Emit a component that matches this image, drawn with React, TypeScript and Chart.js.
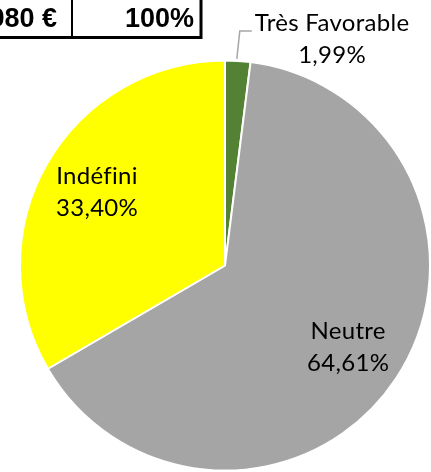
import React, { useEffect, useRef } from "react";
import { Chart, registerables } from "chart.js";

Chart.register(...registerables);

const categories = ["Très Favorable", "Neutre", "Indéfini"];
const shares = [1.99, 64.61, 33.4];
const sliceColors = ["#548235", "#a5a5a5", "#ffff00"];
const tableCells = ["980 €", "100%"];

function fmt(v: number) {
  return v.toFixed(2).replace(".", ",") + "%";
}

const LABEL_FONT = "24px Lato, 'Noto Sans', sans-serif";
const LINE_GAP = 16;

const labelsPlugin = {
  id: "pieLabels",
  afterDatasetsDraw(chart: any) {
    const ctx = chart.ctx;
    const meta = chart.getDatasetMeta(0);
    ctx.save();
    ctx.font = LABEL_FONT;
    try {
      (ctx as any).letterSpacing = "0.3px";
    } catch (e) {}
    ctx.fillStyle = "#000";
    ctx.textBaseline = "middle";
    meta.data.forEach((arc: any, i: number) => {
      const { x, y, startAngle, endAngle, outerRadius } = arc.getProps(
        ["x", "y", "startAngle", "endAngle", "outerRadius"],
        true
      );
      const mid = (startAngle + endAngle) / 2;
      const frac = (endAngle - startAngle) / (2 * Math.PI);
      if (frac < 0.05) {
        const ex = x + Math.cos(mid) * outerRadius;
        const ey = y + Math.sin(mid) * outerRadius;
        const kx = ex + 2;
        const ky = ey - 30;
        ctx.strokeStyle = "#a6a6a6";
        ctx.lineWidth = 1.5;
        ctx.beginPath();
        ctx.moveTo(ex - 1, ey - 2);
        ctx.lineTo(kx, ky);
        ctx.lineTo(kx + 12, ky);
        ctx.stroke();
        const w = ctx.measureText(categories[i]).width;
        const cx = kx + 15 + w / 2;
        ctx.textAlign = "center";
        ctx.fillText(categories[i], cx, ky - 8);
        ctx.fillText(fmt(shares[i]), cx, ky - 8 + 2 * LINE_GAP);
      } else {
        const r = outerRadius * 0.72;
        const lx = x + Math.cos(mid) * r;
        const ly = y + Math.sin(mid) * r;
        ctx.textAlign = "center";
        ctx.fillText(categories[i], lx, ly - LINE_GAP);
        ctx.fillText(fmt(shares[i]), lx, ly + LINE_GAP);
      }
    });
    ctx.restore();
  },
};

const tablePlugin = {
  id: "tableFragment",
  afterDraw(chart: any) {
    const ctx = chart.ctx;
    ctx.save();
    ctx.fillStyle = "#000";
    ctx.font = "bold 27px 'Liberation Sans', Arial, sans-serif";
    ctx.textAlign = "right";
    ctx.textBaseline = "alphabetic";
    ctx.fillText(tableCells[0], 57, 27);
    ctx.fillText(tableCells[1], 194, 27);
    ctx.strokeStyle = "#000";
    ctx.lineWidth = 2;
    ctx.beginPath();
    ctx.moveTo(72, 0);
    ctx.lineTo(72, 37);
    ctx.stroke();
    ctx.lineWidth = 3;
    ctx.beginPath();
    ctx.moveTo(201, 0);
    ctx.lineTo(201, 38.5);
    ctx.moveTo(0, 37.5);
    ctx.lineTo(202.5, 37.5);
    ctx.stroke();
    ctx.restore();
  },
};

export default function App() {
  const ref = useRef<HTMLCanvasElement | null>(null);
  useEffect(() => {
    if (!ref.current) return;
    const chart = new Chart(ref.current, {
      type: "pie",
      data: {
        labels: categories,
        datasets: [
          {
            data: shares,
            backgroundColor: sliceColors,
            borderColor: "#ffffff",
            borderWidth: 2,
          },
        ],
      },
      options: {
        responsive: false,
        animation: false,
        layout: { padding: { left: 19, top: 59, right: -2, bottom: -1 } },
        plugins: {
          legend: { display: false },
          tooltip: { enabled: false },
        },
      },
      plugins: [labelsPlugin, tablePlugin],
    } as any);
    return () => chart.destroy();
  }, []);
  return (
    <div
      style={{
        position: "fixed",
        left: 0,
        top: 0,
        width: 431,
        height: 472,
        overflow: "hidden",
        background: "#fff",
      }}
    >
      <canvas ref={ref} width={431} height={472} style={{ width: 431, height: 472 }} />
    </div>
  );
}
